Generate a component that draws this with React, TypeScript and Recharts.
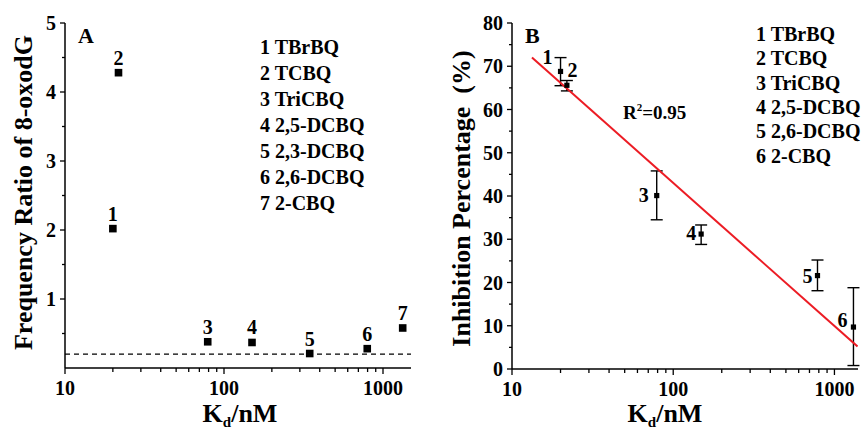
import { ScatterChart, Scatter, XAxis, YAxis, ReferenceLine, ErrorBar } from "recharts";

const FONT = '"Liberation Serif", "Times New Roman", serif';

// panel A: frequency ratio of 8-oxodG vs Kd
const IDS_A = ["1", "2", "3", "4", "5", "6", "7"];
const NAMES_A = ["TBrBQ", "TCBQ", "TriCBQ", "2,5-DCBQ", "2,3-DCBQ", "2,6-DCBQ", "2-CBQ"];
const KD_A = [20, 21.7, 79, 150, 346, 796, 1330];
const RATIO_A = [2.02, 4.28, 0.38, 0.37, 0.21, 0.28, 0.58];
const BASELINE_A = 0.2;

// panel B: inhibition percentage vs Kd
const IDS_B = ["1", "2", "3", "4", "5", "6"];
const NAMES_B = ["TBrBQ", "TCBQ", "TriCBQ", "2,5-DCBQ", "2,6-DCBQ", "2-CBQ"];
const KD_B = [20, 21.9, 79, 149, 785, 1312];
const INHIB_B = [68.8, 65.6, 40.1, 31.2, 21.6, 9.7];
const ERR_TOP_B = [72.0, 66.7, 45.8, 33.3, 25.2, 18.8];
const ERR_BOTTOM_B = [65.5, 64.3, 34.5, 28.8, 18.1, 0.8];
const FIT_KD = [13.3, 1390];
const FIT_Y = [72.0, 5.2];

const X_TICKS = [10, 20, 30, 40, 50, 60, 70, 80, 90, 100, 200, 300, 400, 500, 600, 700, 800, 900, 1000];
const X_LABELS = [10, 100, 1000];
const Y_TICKS_A = [0.5, 1, 1.5, 2, 2.5, 3, 3.5, 4, 4.5, 5];
const Y_LABELS_A = [1, 2, 3, 4, 5];
const Y_TICKS_B = [0, 5, 10, 15, 20, 25, 30, 35, 40, 45, 50, 55, 60, 65, 70, 75, 80];
const Y_LABELS_B = [0, 10, 20, 30, 40, 50, 60, 70, 80];

const dataA = KD_A.map((x, i) => ({ x, y: RATIO_A[i], id: IDS_A[i] }));
const dataB = KD_B.map((x, i) => ({
  x,
  y: INHIB_B[i],
  id: IDS_B[i],
  err: [INHIB_B[i] - ERR_BOTTOM_B[i], ERR_TOP_B[i] - INHIB_B[i]],
}));
const fitData = FIT_KD.map((x, i) => ({ x, y: FIT_Y[i] }));

// label placement around points in B (dx, dy of baseline)
const LABEL_OFF_B: Record<string, [number, number]> = {
  "1": [-13, -7.5],
  "2": [5.5, -8.5],
  "3": [-13, 6],
  "4": [-10, 5.5],
  "5": [-10, 7],
  "6": [-11, 0],
};

const boldText = { fontFamily: FONT, fontWeight: "bold" as const, fill: "#000" };

function makeXTick(labels: number[]) {
  return (props: any) => {
    const { x, y, payload } = props;
    const major = labels.includes(payload.value);
    return (
      <g>
        <line x1={x} x2={x} y1={y} y2={y + (major ? 6 : 4)} stroke="#000" strokeWidth={1.3} />
        {major && (
          <text x={x} y={y + 27} textAnchor="middle" fontSize={20} {...boldText}>
            {payload.value}
          </text>
        )}
      </g>
    );
  };
}

function makeYTick(labels: number[]) {
  return (props: any) => {
    const { x, y, payload } = props;
    const major = labels.includes(payload.value);
    return (
      <g>
        <line x1={x - (major ? 5 : 3)} x2={x} y1={y} y2={y} stroke="#000" strokeWidth={1.3} />
        {major && (
          <text x={x - 9} y={y} dy="0.35em" textAnchor="end" fontSize={20} {...boldText}>
            {payload.value}
          </text>
        )}
      </g>
    );
  };
}

const squareA = (props: any) => {
  const { cx, cy, payload } = props;
  return (
    <g>
      <rect x={cx - 3.8} y={cy - 3.8} width={7.6} height={7.6} fill="#000" />
      <text x={cx} y={cy - 8} textAnchor="middle" fontSize={20} {...boldText}>
        {payload.id}
      </text>
    </g>
  );
};

const squareB = (props: any) => {
  const { cx, cy, payload } = props;
  const off = LABEL_OFF_B[payload.id] ?? [0, 0];
  return (
    <g>
      <rect x={cx - 2.6} y={cy - 2.6} width={5.2} height={5.2} fill="#000" />
      <text x={cx + off[0]} y={cy + off[1]} textAnchor="middle" fontSize={20} {...boldText}>
        {payload.id}
      </text>
    </g>
  );
};

const axisLine = { stroke: "#000", strokeWidth: 1.5 };

export default function App() {
  return (
    <div style={{ position: "absolute", left: 0, top: 0, width: 863, height: 431, background: "#fff" }}>
      <div style={{ position: "absolute", left: 0, top: 0 }}>
        <ScatterChart width={430} height={431} margin={{ top: 23, right: 19, bottom: 13, left: 0 }}>
          <XAxis
            type="number"
            dataKey="x"
            scale="log"
            domain={[10, 1500]}
            ticks={X_TICKS}
            interval={0}
            allowDataOverflow
            height={50}
            tickSize={0}
            tickMargin={0}
            tickLine={false}
            axisLine={axisLine}
            tick={makeXTick(X_LABELS)}
          />
          <YAxis
            type="number"
            dataKey="y"
            domain={[0, 5]}
            ticks={Y_TICKS_A}
            interval={0}
            allowDataOverflow
            width={65}
            tickSize={0}
            tickMargin={0}
            tickLine={false}
            axisLine={axisLine}
            tick={makeYTick(Y_LABELS_A)}
          />
          <ReferenceLine y={BASELINE_A} stroke="#000" strokeWidth={1.2} strokeDasharray="5 4" />
          <Scatter data={dataA} shape={squareA} isAnimationActive={false} />
        </ScatterChart>
      </div>

      <div style={{ position: "absolute", left: 430, top: 0 }}>
        <ScatterChart width={433} height={431} margin={{ top: 23, right: 5, bottom: 12, left: 0 }}>
          <XAxis
            type="number"
            dataKey="x"
            scale="log"
            domain={[10, 1400]}
            ticks={X_TICKS}
            interval={0}
            allowDataOverflow
            height={50}
            tickSize={0}
            tickMargin={0}
            tickLine={false}
            axisLine={axisLine}
            tick={makeXTick(X_LABELS)}
          />
          <YAxis
            type="number"
            dataKey="y"
            domain={[0, 80]}
            ticks={Y_TICKS_B}
            interval={0}
            allowDataOverflow
            width={82}
            tickSize={0}
            tickMargin={0}
            tickLine={false}
            axisLine={axisLine}
            tick={makeYTick(Y_LABELS_B)}
          />
          <Scatter
            data={fitData}
            line={{ stroke: "#ec1c24", strokeWidth: 2 }}
            shape={() => <g />}
            isAnimationActive={false}
          />
          <Scatter data={dataB} shape={squareB} isAnimationActive={false}>
            <ErrorBar dataKey="err" direction="y" width={6} stroke="#000" strokeWidth={1.4} />
          </Scatter>
        </ScatterChart>
      </div>

      <svg
        width={863}
        height={431}
        style={{ position: "absolute", left: 0, top: 0, pointerEvents: "none" }}
      >
        <text x={78} y={43} fontSize={22} {...boldText}>A</text>
        <text x={525} y={43} fontSize={22} {...boldText}>B</text>

        {NAMES_A.map((n, i) => (
          <text key={n} x={260} y={54 + i * 26} fontSize={20} {...boldText}>
            {IDS_A[i]} {n}
          </text>
        ))}
        {NAMES_B.map((n, i) => (
          <text key={n} x={756} y={41 + i * 24.3} fontSize={20} {...boldText}>
            {IDS_B[i]} {n}
          </text>
        ))}

        <text x={623} y={119} fontSize={19} {...boldText}>
          R<tspan fontSize={11} dy={-8}>2</tspan>
          <tspan dy={8}>=0.95</tspan>
        </text>

        <text x={32} y={192.5} transform="rotate(-90 32 192.5)" textAnchor="middle" fontSize={26} {...boldText}>
          Frequency Ratio of 8-oxodG
        </text>
        <text x={470} y={198.5} transform="rotate(-90 470 198.5)" textAnchor="middle" fontSize={26} {...boldText} style={{ whiteSpace: "pre" }}>
          {"Inhibition Percentage  (%)"}
        </text>

        <text x={240} y={422} textAnchor="middle" fontSize={26} {...boldText}>
          K<tspan fontSize={15} dy={5}>d</tspan>
          <tspan dy={-5}>/nM</tspan>
        </text>
        <text x={665} y={422} textAnchor="middle" fontSize={26} {...boldText}>
          K<tspan fontSize={15} dy={5}>d</tspan>
          <tspan dy={-5}>/nM</tspan>
        </text>
      </svg>
    </div>
  );
}
